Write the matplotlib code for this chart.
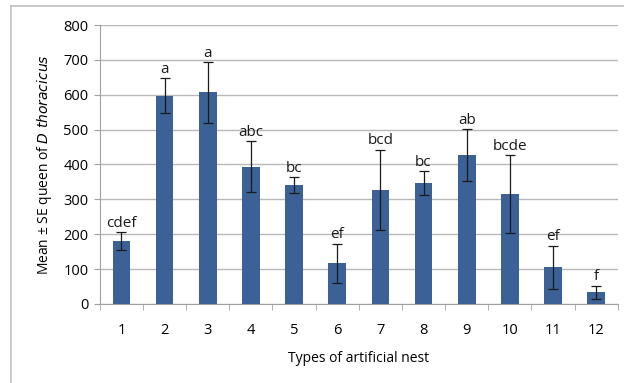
import numpy as np
import matplotlib
matplotlib.use("Agg")
from matplotlib import pyplot as plt
from matplotlib.lines import Line2D

# nest types, means, SE and letter groups
nests = ['1', '2', '3', '4', '5', '6', '7', '8', '9', '10', '11', '12']
means = [180, 597, 607, 394, 340, 117, 327, 346, 427, 315, 105, 34]
se = [26, 50, 87, 72, 23, 56, 115, 34, 74, 111, 62, 19]
letters = ['cdef', 'a', 'a', 'abc', 'bc', 'ef', 'bcd', 'bc', 'ab', 'bcde', 'ef', 'f']
yticks = [0, 100, 200, 300, 400, 500, 600, 700, 800]

plt.rcParams['font.family'] = ['Open Sans', 'DejaVu Sans']

fig = plt.figure(figsize=(6.24, 3.83), dpi=100)
ax = fig.add_axes([0.160, 0.2063, 0.830, 0.7284])

x = np.arange(len(nests))
ax.bar(x, means, width=0.41, color='#3b6196', zorder=3)
ax.errorbar(x, means, yerr=se, fmt='none', ecolor='#1a1a1a', elinewidth=0.9,
            capsize=3.5, capthick=0.9, zorder=4)

for i in range(len(nests)):
    ax.text(x[i], means[i] + se[i] + 4, letters[i], ha='center', va='bottom',
            fontsize=11, color='#1a1a1a')

ax.set_xlim(-0.5, len(nests) - 0.5)
ax.set_ylim(0, 800)
ax.set_yticks(yticks)
ax.set_xticks(x)
ax.set_xticklabels(nests)
ax.tick_params(axis='x', length=0, pad=14, labelsize=10.5)
ax.tick_params(axis='y', length=4, color='#a0a0a0', labelsize=10.5, pad=4)
ax.set_xticks(np.arange(-0.5, len(nests)), minor=True)
ax.tick_params(axis='x', which='minor', length=4, color='#a0a0a0')

ax.grid(axis='y', color='#b8b8b8', linewidth=1.0, zorder=0)
for s in ['top', 'right']:
    ax.spines[s].set_visible(False)
ax.spines['left'].set_color('#a0a0a0')
ax.spines['bottom'].set_color('#a0a0a0')

ax.set_ylabel('Mean ± SE queen of $\\it{D\\ thoracicus}$', fontsize=10, labelpad=7)
ax.set_xlabel('Types of artificial nest', fontsize=10, labelpad=9)

# outer chart frame
fig.add_artist(Line2D([0.0176, 0.0176], [0.0, 0.984], color='#c0c0c0', lw=1.2))
fig.add_artist(Line2D([0.0176, 1.0], [0.984, 0.984], color='#c0c0c0', lw=1.2))

plt.savefig('out.png', dpi=100)
